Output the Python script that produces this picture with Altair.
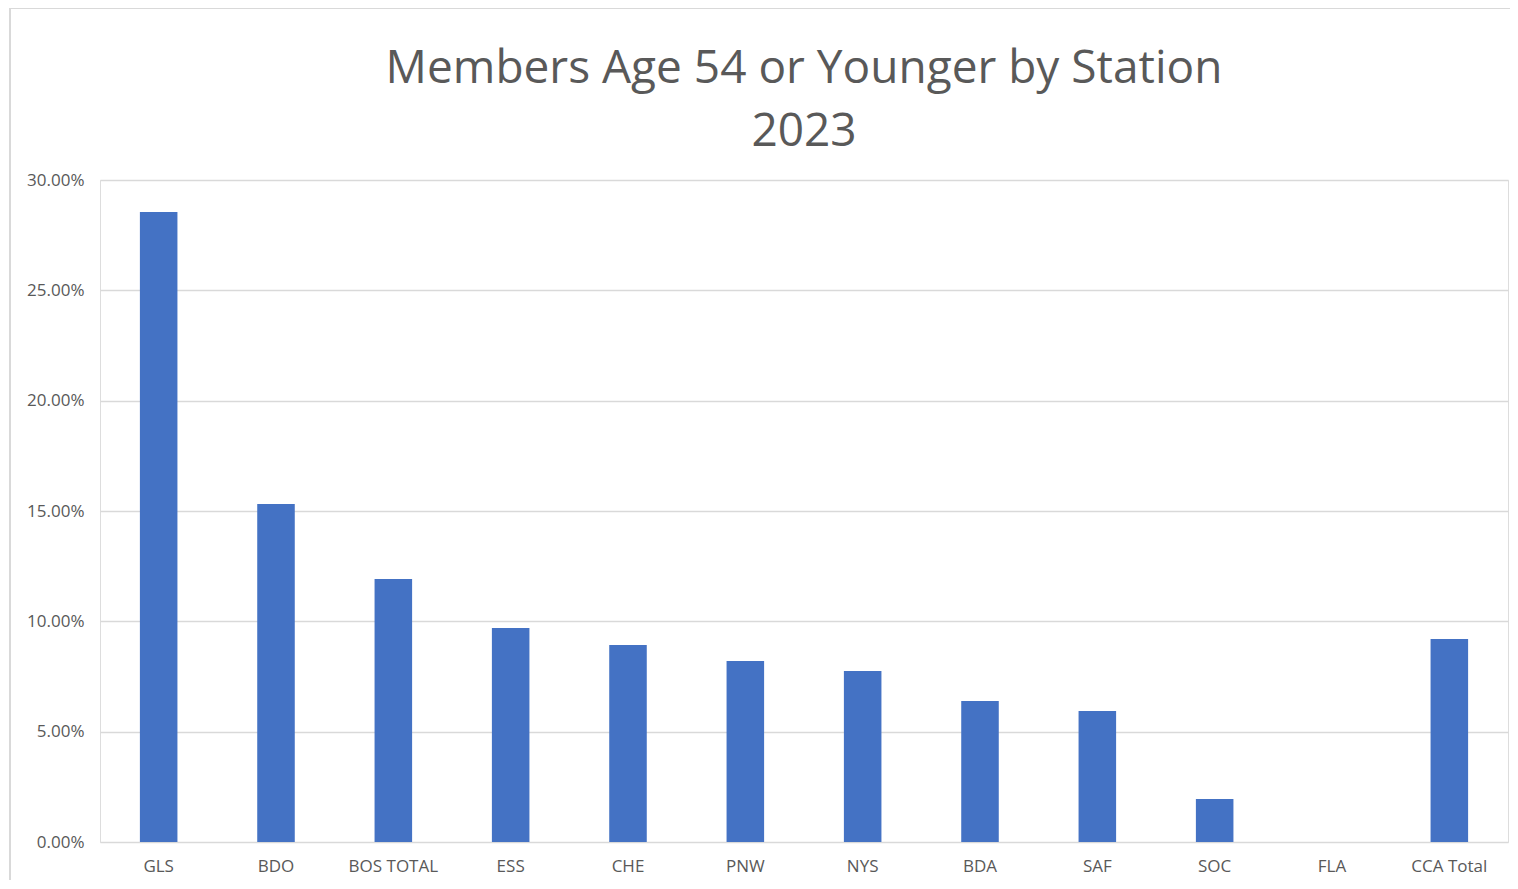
import altair as alt
import pandas as pd

stations = ["GLS", "BDO", "BOS TOTAL", "ESS", "CHE", "PNW", "NYS", "BDA", "SAF", "SOC", "FLA", "CCA Total"]
share = [0.2855, 0.1532, 0.1192, 0.0970, 0.0893, 0.0820, 0.0775, 0.0639, 0.0594, 0.0195, 0.0, 0.0920]

df = pd.DataFrame({"station": stations, "share": share})

W, H = 1408, 662
FONT = "Open Sans"

bars = alt.Chart(df).mark_bar(color="#4472C4").encode(
    x=alt.X("station:N", sort=stations, title=None,
            scale=alt.Scale(paddingInner=0.68, paddingOuter=0.34),
            axis=alt.Axis(labelAngle=0, ticks=False, domain=False, grid=False, labelPadding=16,
                          labelFontSize=17, labelColor="#595959", labelFont=FONT)),
    y=alt.Y("share:Q", title=None,
            scale=alt.Scale(domain=[0, 0.30]),
            axis=alt.Axis(format=".2%", values=[0, 0.05, 0.10, 0.15, 0.20, 0.25, 0.30],
                          ticks=False, domain=False, labelPadding=16,
                          labelFontSize=17, labelColor="#595959", labelFont=FONT,
                          gridColor="#d9d9d9", gridWidth=1.5)),
)

border = alt.Chart(df).mark_rect(fill=None, stroke="#d9d9d9", strokeWidth=1.5, clip=False).encode(
    x=alt.value(-90), x2=alt.value(W + 30), y=alt.value(-172), y2=alt.value(H + 60)
)

chart = alt.layer(border, bars).properties(
    width=W, height=H,
    autosize=alt.AutoSizeParams(type="none"),
    padding={"left": 92, "top": 172, "right": 2, "bottom": 38},
    title=alt.TitleParams(["Members Age 54 or Younger by Station", "2023"],
                          font=FONT, fontSize=46, fontWeight="normal", color="#595959",
                          anchor="middle", frame="group", baseline="bottom",
                          offset=-195, lineHeight=63),
).configure_view(strokeWidth=0, stroke="transparent").configure(background="white")

chart.save("out.html", embed_options={"renderer": "svg", "actions": False})
